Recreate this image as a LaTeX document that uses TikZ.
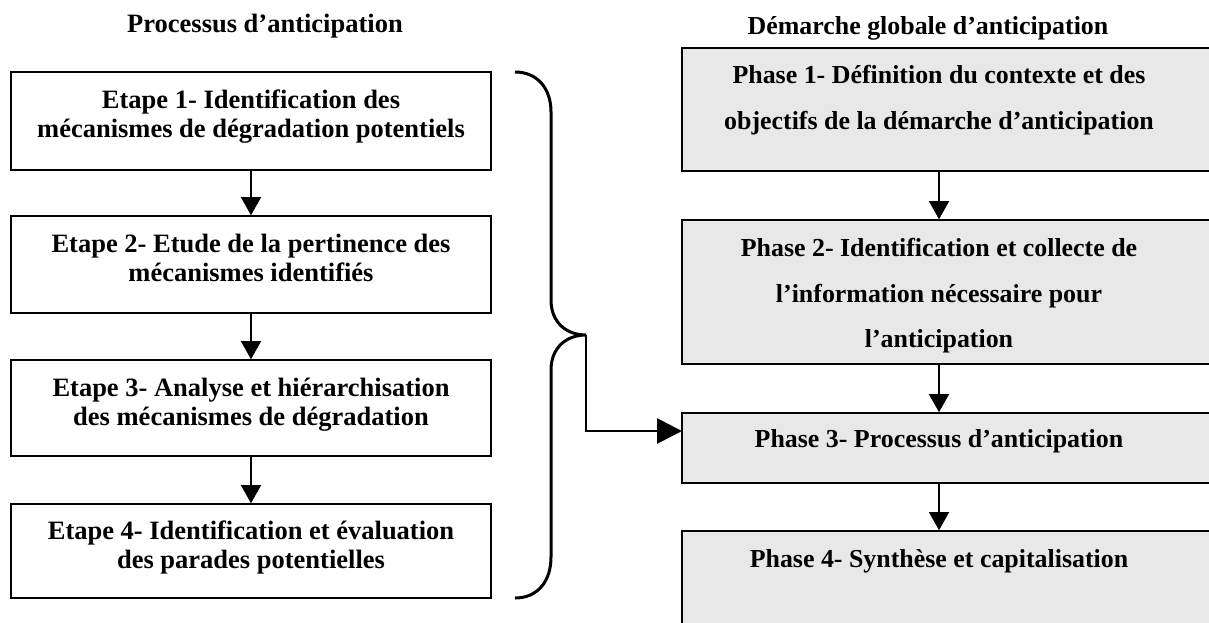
\documentclass[tikz,border=0pt]{standalone}
\usepackage{fontspec}
\setmainfont{Liberation Serif}
\usetikzlibrary{arrows.meta,calc}
\definecolor{boxgray}{RGB}{232,232,232}
\tikzset{
  lbox/.style={draw, line width=1.6pt, rectangle, minimum width=480pt, inner sep=0pt},
  rbox/.style={draw, line width=1.6pt, rectangle, fill=boxgray, minimum width=548pt, inner sep=0pt},
  ltext/.style={font=\fontsize{26.5}{29}\selectfont\bfseries, anchor=base, inner sep=0pt},
  rtext/.style={font=\fontsize{25.9}{46}\selectfont\bfseries, anchor=base, inner sep=0pt},
  flow/.style={line width=1.3pt, -{Triangle[width=20pt,length=18pt]}},
  bigflow/.style={line width=2.8pt, -{Triangle[width=25pt,length=25pt]}},
  bracestroke/.style={line width=3pt},
}
\begin{document}
\begin{tikzpicture}[x=1pt,y=-1pt]
\useasboundingbox (0,0) rectangle (1209,622);
\clip (0,0) rectangle (1209,622);

% titles
\node[ltext] (t1) at (265,32) {Processus d’anticipation};
\node[rtext] (t2) at (928,34) {Démarche globale d’anticipation};

% left boxes
\node[lbox, minimum height=98pt] (B1) at (251,121) {};
\node[lbox, minimum height=97pt] (B2) at (251,264.5) {};
\node[lbox, minimum height=96pt] (B3) at (251,408) {};
\node[lbox, minimum height=94pt] (B4) at (251,551) {};

\node[ltext] (b1a) at (251,108) {Etape 1- Identification des};
\node[ltext] (b1b) at (251,137) {mécanismes de dégradation potentiels};
\node[ltext] (b2a) at (251,252) {Etape 2- Etude de la pertinence des};
\node[ltext] (b2b) at (251,281) {mécanismes identifiés};
\node[ltext] (b3a) at (251,396) {Etape 3- Analyse et hiérarchisation};
\node[ltext] (b3b) at (251,425) {des mécanismes de dégradation};
\node[ltext] (b4a) at (251,539) {Etape 4- Identification et évaluation};
\node[ltext] (b4b) at (251,568) {des parades potentielles};

\draw[flow] (B1.south) -- (B2.north);
\draw[flow] (B2.south) -- (B3.north);
\draw[flow] (B3.south) -- (B4.north);

% right boxes
\node[rbox, minimum height=123pt] (R1) at (956,109.5) {};
\node[rbox, minimum height=144pt] (R2) at (956,292) {};
\node[rbox, minimum height=70pt] (R3) at (956,448) {};
\node[rbox, minimum height=119pt] (R4) at (956,590.5) {};

\node[rtext] (r1a) at (939,83) {Phase 1- Définition du contexte et des};
\node[rtext] (r1b) at (939,129) {objectifs de la démarche d’anticipation};
\node[rtext] (r2a) at (939,256) {Phase 2- Identification et collecte de};
\node[rtext] (r2b) at (939,302) {l’information nécessaire pour};
\node[rtext] (r2c) at (939,347) {l’anticipation};
\node[rtext] (r3a) at (939,447) {Phase 3- Processus d’anticipation};
\node[rtext] (r4a) at (939,567) {Phase 4- Synthèse et capitalisation};

\draw[flow] (R1.south -| r1a) -- (R2.north -| r1a);
\draw[flow] (R2.south -| r1a) -- (R3.north -| r1a);
\draw[flow] (R3.south -| r1a) -- (R4.north -| r1a);

% brace
\coordinate (tip) at (586,335);
\coordinate (arr) at (682,431);
\draw[bracestroke] (515,72) .. controls (537,72) and (551,88) .. (551,112)
  -- (551,300) .. controls (551,322) and (566,335) .. (tip)
  .. controls (566,335) and (551,348) .. (551,370)
  -- (551,557) .. controls (551,582) and (537,598) .. (515,598);
\draw[bigflow] (tip) |- (arr);
\end{tikzpicture}
\end{document}
